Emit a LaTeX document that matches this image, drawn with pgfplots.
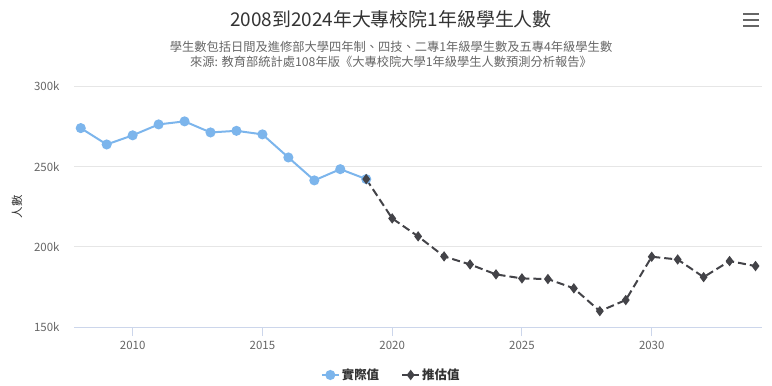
\documentclass[border=0pt]{standalone}
\usepackage{fontspec}
\setmainfont{Noto Sans CJK TC}
\usepackage{pgfplots}
\pgfplotsset{compat=1.18}
\definecolor{hcblue}{HTML}{7CB5EC}
\definecolor{hcdark}{HTML}{434348}
\definecolor{gridc}{HTML}{E6E6E6}
\definecolor{axisc}{HTML}{CCD6EB}
\definecolor{txt}{HTML}{333333}
\definecolor{sub}{HTML}{666666}
\begin{document}
\begin{tikzpicture}[x=1bp,y=1bp]
\path[use as bounding box] (0,0) rectangle (772,385);
\node[text=txt, font=\fontsize{19}{22}\selectfont] at (391,366) {2008到2024年大專校院1年級學生人數};
\node[text=sub, font=\fontsize{12.3}{14}\selectfont] at (391,338) {學生數包括日間及進修部大學四年制、四技、二專1年級學生數及五專4年級學生數};
\node[text=sub, font=\fontsize{12.3}{14}\selectfont] at (391,323) {來源: 教育部統計處108年版《大專校院大學1年級學生人數預測分析報告》};
\draw[sub, line width=2.5bp] (743,371) -- (759,371);
\draw[sub, line width=2.5bp] (743,365) -- (759,365);
\draw[sub, line width=2.5bp] (743,359) -- (759,359);
\begin{axis}[
  at={(74bp,58bp)}, anchor=south west,
  scale only axis, width=688bp, height=240.6bp,
  xmin=2007.74, xmax=2034.25, ymin=150000, ymax=300000,
  axis lines*=left,
  y axis line style={draw=none},
  x axis line style={axisc, line width=1bp},
  xtick={2010,2015,2020,2025,2030},
  xticklabels={2010,2015,2020,2025,2030},
  ytick={150000,200000,250000,300000},
  yticklabels={150k,200k,250k,300k},
  scaled y ticks=false,
  ymajorgrids, grid style={gridc, line width=1bp},
  tick align=outside,
  x tick style={axisc, line width=1bp},
  major tick length=9bp,
  y tick style={draw=none},
  x tick label style={text=sub, font=\fontsize{11.5}{13}\selectfont, yshift=-2bp},
  y tick label style={text=sub, font=\fontsize{11.5}{13}\selectfont, xshift=-2bp},
  ylabel={人數},
  ylabel style={at={(axis description cs:-0.0828,0.5)}, anchor=center, text=txt, font=\fontsize{11.5}{13}\selectfont},
  legend style={at={(0.461,-0.1995)}, anchor=center, draw=none, fill=none, legend columns=2,
    font=\bfseries\fontsize{12.5}{14}\selectfont, text=txt,
    /tikz/every even column/.append style={column sep=20bp}},
  legend cell align=left,
]
\addplot[hcblue, line width=2bp, mark=*, mark size=4bp, mark options={solid, fill=hcblue, draw=hcblue}, forget plot] coordinates {
(2008,274000) (2009,263800) (2010,269500) (2011,276300) (2012,278200) (2013,271300)
(2014,272300) (2015,270100) (2016,255700) (2017,241400) (2018,248400) (2019,242200)
};
\addplot[hcdark, line width=2bp, dash pattern=on 8bp off 4bp, mark=diamond*, mark size=3.6bp, mark options={solid, fill=hcdark, draw=hcdark}, forget plot] coordinates {
(2019,242200) (2020,217700) (2021,206500) (2022,194000) (2023,189000) (2024,182800)
(2025,180300) (2026,179900) (2027,174100) (2028,159900) (2029,166800) (2030,193800)
(2031,192100) (2032,181100) (2033,191100) (2034,188000)
};
\addlegendimage{hcblue, line width=2bp, mark=*, mark size=4bp, mark options={fill=hcblue, draw=hcblue}}
\addlegendentry{實際值}
\addlegendimage{hcdark, line width=2bp, mark=diamond*, mark size=3.6bp, mark options={fill=hcdark, draw=hcdark}}
\addlegendentry{推估值}
\end{axis}
\end{tikzpicture}
\end{document}
